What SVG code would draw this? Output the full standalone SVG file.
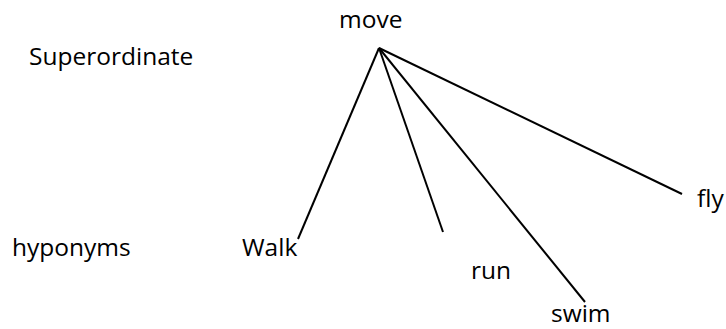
<svg xmlns="http://www.w3.org/2000/svg" width="726" height="329" viewBox="0 0 726 329">
<style>
text{font-family:"Open Sans","Liberation Sans",sans-serif;font-size:24.5px;fill:#000}
.edge{stroke:#000;stroke-width:2;fill:none}
</style>
<rect width="726" height="329" fill="#fff"/>
<g id="connectors">
<line class="edge" x1="379" y1="48" x2="298" y2="239"/>
<line class="edge" x1="379" y1="48" x2="443" y2="232"/>
<line class="edge" x1="379" y1="48" x2="585" y2="302"/>
<line class="edge" x1="379" y1="48" x2="682" y2="194"/>
</g>
<g id="label-superordinate"><text x="29" y="65">Superordinate</text></g>
<g id="label-hyponyms"><text x="12" y="256">hyponyms</text></g>
<g id="node-move"><text x="339" y="28">move</text></g>
<g id="node-walk"><text x="242" y="256">Walk</text></g>
<g id="node-run"><text x="471" y="279">run</text></g>
<g id="node-swim"><text x="551" y="322">swim</text></g>
<g id="node-fly"><text x="697" y="207">fly</text></g>
</svg>
